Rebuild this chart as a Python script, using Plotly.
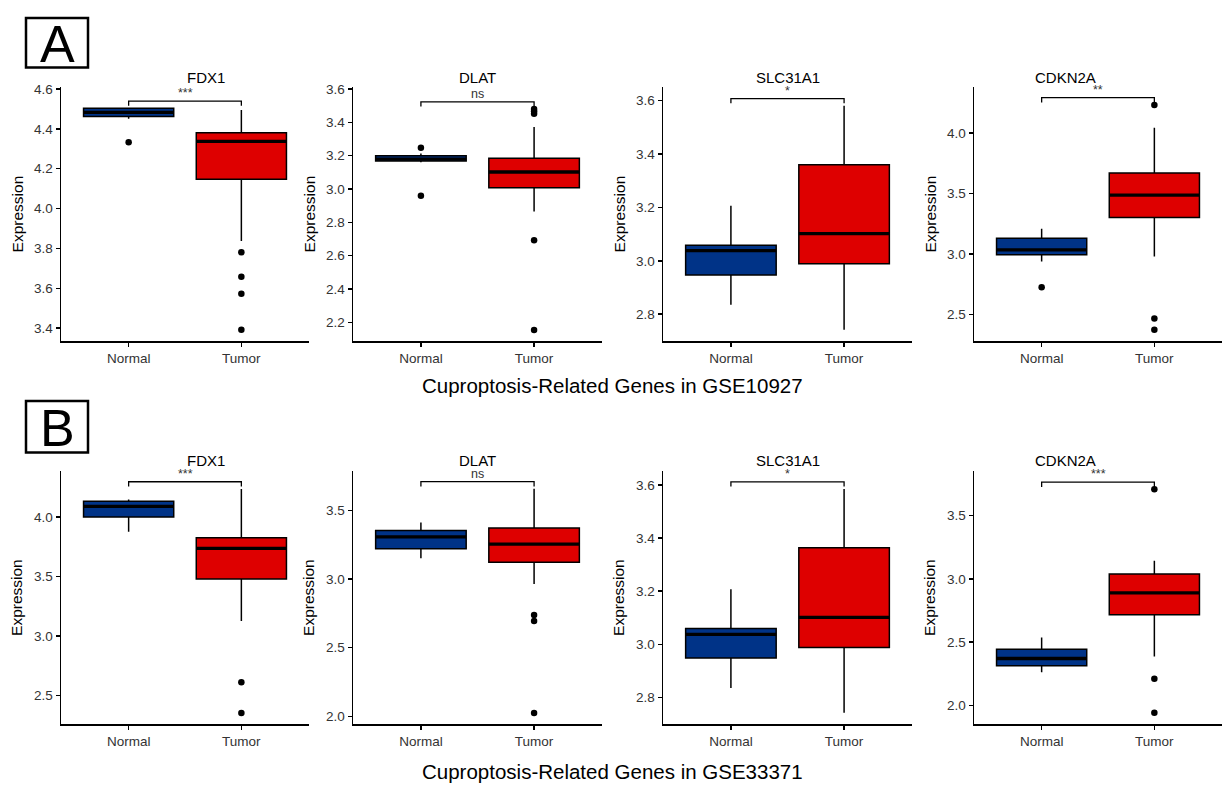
import plotly.graph_objects as go

W, H = 1224, 785
FONT = "Liberation Sans, Arial, sans-serif"

GENES = ["FDX1", "DLAT", "SLC31A1", "CDKN2A"]
GROUPS = ["Normal", "Tumor"]
DATASETS = ["GSE10927", "GSE33371"]
LETTERS = ["A", "B"]

# ---------------- GSE10927 (panel A) ----------------
A_NORMAL_Q1 = [4.462, 3.168, 2.947, 2.992]
A_NORMAL_MED = [4.483, 3.179, 3.038, 3.033]
A_NORMAL_Q3 = [4.503, 3.200, 3.058, 3.129]
A_NORMAL_LO = [4.450, 3.160, 2.835, 2.937]
A_NORMAL_HI = [4.503, 3.213, 3.206, 3.209]
A_NORMAL_OUT = [[4.332], [3.247, 2.960], [], [2.723]]
A_TUMOR_Q1 = [4.147, 3.008, 2.989, 3.302]
A_TUMOR_MED = [4.337, 3.102, 3.102, 3.486]
A_TUMOR_Q3 = [4.380, 3.184, 3.360, 3.670]
A_TUMOR_LO = [3.837, 2.865, 2.742, 2.978]
A_TUMOR_HI = [4.495, 3.372, 3.581, 4.044]
A_TUMOR_OUT = [[3.780, 3.658, 3.572, 3.392],
               [3.480, 3.466, 3.451, 2.693, 2.153],
               [],
               [4.234, 2.464, 2.371]]
A_SIG = ["***", "ns", "*", "**"]

# ---------------- GSE33371 (panel B) ----------------
B_NORMAL_Q1 = [4.000, 3.221, 2.948, 2.312]
B_NORMAL_MED = [4.089, 3.307, 3.037, 2.370]
B_NORMAL_Q3 = [4.133, 3.353, 3.059, 2.443]
B_NORMAL_LO = [3.875, 3.151, 2.835, 2.262]
B_NORMAL_HI = [4.147, 3.411, 3.207, 2.537]
B_NORMAL_OUT = [[], [], [], []]
B_TUMOR_Q1 = [3.478, 3.123, 2.988, 2.717]
B_TUMOR_MED = [3.736, 3.254, 3.101, 2.890]
B_TUMOR_Q3 = [3.825, 3.372, 3.364, 3.039]
B_TUMOR_LO = [3.125, 2.964, 2.742, 2.387]
B_TUMOR_HI = [4.236, 3.657, 3.585, 3.144]
B_TUMOR_OUT = [[2.611, 2.353], [2.738, 2.694, 2.024], [], [3.709, 2.209, 1.940]]
B_SIG = ["***", "ns", "*", "***"]

# axis settings
Y_RANGES = [[[3.333, 4.608], [2.085, 3.610], [2.698, 3.650], [2.275, 4.379]],
            [[2.256, 4.383], [1.940, 3.784], [2.698, 3.651], [1.848, 3.851]]]
Y_DTICK = [[0.2, 0.2, 0.2, 0.5], [0.5, 0.5, 0.2, 0.5]]

COLORS = {"Normal": "#003387", "Tumor": "#DE0000"}

DATA = [
    {"Normal": (A_NORMAL_Q1, A_NORMAL_MED, A_NORMAL_Q3, A_NORMAL_LO, A_NORMAL_HI, A_NORMAL_OUT),
     "Tumor": (A_TUMOR_Q1, A_TUMOR_MED, A_TUMOR_Q3, A_TUMOR_LO, A_TUMOR_HI, A_TUMOR_OUT),
     "sig": A_SIG},
    {"Normal": (B_NORMAL_Q1, B_NORMAL_MED, B_NORMAL_Q3, B_NORMAL_LO, B_NORMAL_HI, B_NORMAL_OUT),
     "Tumor": (B_TUMOR_Q1, B_TUMOR_MED, B_TUMOR_Q3, B_TUMOR_LO, B_TUMOR_HI, B_TUMOR_OUT),
     "sig": B_SIG},
]

# layout geometry (pixels)
COL_X = [(61, 309), (353, 602), (663, 912), (974, 1222)]
ROW_Y = [(82, 338), (469, 724)]
GENE_TITLE_Y = [72, 458]
LETTER_BOX_Y = [(12, 62), (398, 450)]
BOX_W = 0.8

fig = go.Figure()
layout = dict(
    width=W, height=H, autosize=False,
    margin=dict(l=0, r=0, t=0, b=0),
    paper_bgcolor="white", plot_bgcolor="white",
    showlegend=False,
    font=dict(family=FONT, color="#333333"),
    annotations=[], shapes=[],
)


def px_x(p):
    return p / W


def px_y(p):
    return 1 - p / H


for r in range(2):
    d = DATA[r]
    for c in range(4):
        k = r * 4 + c + 1
        xa, ya = f"x{k}", f"y{k}"
        all_vals = []
        for gi, g in enumerate(GROUPS):
            q1, med, q3, lo, hi, out = d[g]
            all_vals += [lo[c], hi[c]] + list(out[c])
            fig.add_trace(go.Box(
                x=[gi], q1=[q1[c]], median=[med[c]], q3=[q3[c]],
                lowerfence=[lo[c]], upperfence=[hi[c]],
                width=BOX_W, fillcolor=COLORS[g],
                line=dict(color="black", width=1.5),
                whiskerwidth=0, boxpoints=False,
                xaxis=xa, yaxis=ya, hoverinfo="skip", showlegend=False))
            # thick median line
            fig.add_trace(go.Scatter(
                x=[gi - BOX_W / 2, gi + BOX_W / 2], y=[med[c], med[c]],
                mode="lines", line=dict(color="black", width=3.3),
                xaxis=xa, yaxis=ya, hoverinfo="skip", showlegend=False))
            if out[c]:
                fig.add_trace(go.Scatter(
                    x=[gi] * len(out[c]), y=out[c], mode="markers",
                    marker=dict(color="black", size=6.5),
                    xaxis=xa, yaxis=ya, hoverinfo="skip", showlegend=False))
        # significance bracket
        vmax, vmin = max(all_vals), min(all_vals)
        span = vmax - vmin
        br = vmax + 0.032 * span
        leg = 0.021 * span
        fig.add_trace(go.Scatter(
            x=[0, 0, 1, 1], y=[br - leg, br, br, br - leg], mode="lines",
            line=dict(color="black", width=1.3),
            xaxis=xa, yaxis=ya, hoverinfo="skip", showlegend=False))
        layout["annotations"].append(dict(
            x=0.5, y=br, xref=xa, yref=ya, text=d["sig"][c], showarrow=False,
            yanchor="bottom", yshift=-1, font=dict(size=12.5, color="#333333")))

        x0, x1 = COL_X[c]
        y0, y1 = ROW_Y[r]
        layout[f"xaxis{k}"] = dict(
            domain=[px_x(x0), px_x(x1)], anchor=ya, range=[-0.6, 1.6],
            tickvals=[0, 1], ticktext=GROUPS, showgrid=False, zeroline=False,
            showline=True, linecolor="black", linewidth=1.4,
            ticks="outside", ticklen=4, tickcolor="black", tickwidth=1.4,
            tickfont=dict(size=13.5, color="#333333", family=FONT), fixedrange=True)
        layout[f"yaxis{k}"] = dict(
            domain=[px_y(y1), px_y(y0)], anchor=xa, range=Y_RANGES[r][c],
            tick0=0, dtick=Y_DTICK[r][c], tickformat=".1f",
            showgrid=False, zeroline=False,
            showline=True, linecolor="black", linewidth=1.4,
            ticks="outside", ticklen=4, tickcolor="black", tickwidth=1.4,
            tickfont=dict(size=13.5, color="#333333", family=FONT), fixedrange=True)
        # gene title
        layout["annotations"].append(dict(
            x=px_x((x0 + x1) / 2), y=px_y(GENE_TITLE_Y[r]), xref="paper", yref="paper",
            text=GENES[c], showarrow=False, yanchor="middle",
            font=dict(size=15, color="black", family=FONT)))
        # y-axis title
        layout["annotations"].append(dict(
            x=px_x(x0 - 44), y=px_y((y0 + y1) / 2), xref="paper", yref="paper",
            text="Expression", textangle=-90, showarrow=False,
            xanchor="center", yanchor="middle",
            font=dict(size=15.5, color="black", family=FONT)))
    # section title
    if r == 0:
        sec = dict(y=px_y(382), yanchor="middle")
    else:
        sec = dict(y=0.0, yanchor="bottom")
    layout["annotations"].append(dict(
        x=0.5, xref="paper", yref="paper",
        text=f"Cuproptosis-Related Genes in {DATASETS[r]}", showarrow=False,
        font=dict(size=20.5, color="black", family=FONT), **sec))
    # letter box
    ly0, ly1 = LETTER_BOX_Y[r]
    layout["shapes"].append(dict(
        type="rect", xref="paper", yref="paper",
        x0=px_x(26), x1=px_x(88), y0=px_y(ly1), y1=px_y(ly0),
        line=dict(color="black", width=2.5), fillcolor="rgba(0,0,0,0)"))
    layout["annotations"].append(dict(
        x=px_x(57), y=px_y((ly0 + ly1) / 2 + 1), xref="paper", yref="paper",
        text=LETTERS[r], showarrow=False, xanchor="center", yanchor="middle",
        font=dict(size=52, color="black", family=FONT)))

fig.update_layout(**layout)
fig.write_html("out.html", config={"displayModeBar": False, "staticPlot": True},
               post_script="document.body.style.margin='0';document.body.style.padding='0';")
